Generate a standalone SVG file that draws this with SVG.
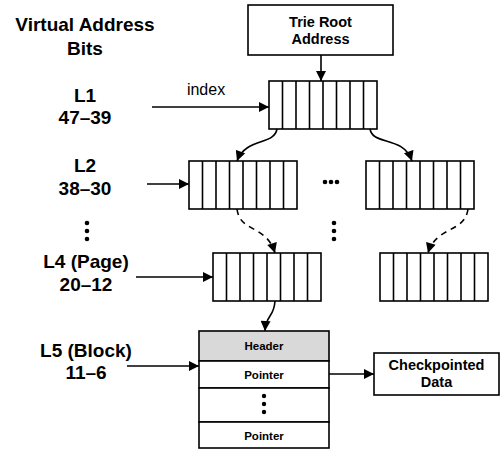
<svg xmlns="http://www.w3.org/2000/svg" width="503" height="450" viewBox="0 0 503 450">
<style>
.lbl{font-family:"Liberation Sans",Arial,sans-serif;font-weight:bold;font-size:19px;fill:#000;text-anchor:middle}
.box{fill:#fff;stroke:#000;stroke-width:1.6}
.cell{stroke:#000;stroke-width:1.6}
.t15{font-family:"Liberation Sans",Arial,sans-serif;font-weight:bold;font-size:14.5px;text-anchor:middle}
.t11{font-family:"Liberation Sans",Arial,sans-serif;font-weight:bold;font-size:11.5px;text-anchor:middle}
.con{fill:none;stroke:#000;stroke-width:1.6}
.dash{stroke-dasharray:6,5}
</style>
<defs>
<marker id="ah" viewBox="0 0 10 10" refX="10" refY="5" markerWidth="11" markerHeight="10" markerUnits="userSpaceOnUse" orient="auto">
<path d="M0,0 L10,5 L0,10 Z" fill="#000"/>
</marker>
<g id="cells8">
<line x1="13.5" y1="0" x2="13.5" y2="48"/><line x1="27" y1="0" x2="27" y2="48"/><line x1="40.5" y1="0" x2="40.5" y2="48"/><line x1="54" y1="0" x2="54" y2="48"/><line x1="67.5" y1="0" x2="67.5" y2="48"/><line x1="81" y1="0" x2="81" y2="48"/><line x1="94.5" y1="0" x2="94.5" y2="48"/>
</g>
</defs>
<g id="labels">
<text class="lbl" x="85" y="31">Virtual Address</text>
<text class="lbl" x="85" y="55">Bits</text>
<text class="lbl" x="85" y="102">L1</text>
<text class="lbl" x="85" y="124">47–39</text>
<text class="lbl" x="85" y="172">L2</text>
<text class="lbl" x="85" y="195">38–30</text>
<circle cx="87" cy="223" r="2.3"/><circle cx="87" cy="231" r="2.3"/><circle cx="87" cy="239" r="2.3"/>
<text class="lbl" x="86" y="268">L4 (Page)</text>
<text class="lbl" x="86" y="291">20–12</text>
<text class="lbl" x="86" y="357">L5 (Block)</text>
<text class="lbl" x="86" y="379">11–6</text>
<text x="206" y="95" font-family="Liberation Sans,Arial,sans-serif" font-size="16" text-anchor="middle">index</text>
</g>
<g id="root">
<rect class="box" x="248" y="5" width="145" height="50"/>
<text class="t15" x="320.5" y="27">Trie Root</text>
<text class="t15" x="320.5" y="44">Address</text>
</g>
<g id="l1" class="cell">
<rect class="box" x="269" y="81" width="108" height="48"/>
<use href="#cells8" x="269" y="81"/>
</g>
<g id="l2a" class="cell">
<rect class="box" x="189" y="161" width="108" height="48"/>
<use href="#cells8" x="189" y="161"/>
</g>
<g id="l2b" class="cell">
<rect class="box" x="366" y="161" width="108" height="48"/>
<use href="#cells8" x="366" y="161"/>
</g>
<g id="l4a" class="cell">
<rect class="box" x="213" y="253" width="108" height="48"/>
<use href="#cells8" x="213" y="253"/>
</g>
<g id="l4b" class="cell">
<rect class="box" x="380" y="253" width="108" height="48"/>
<use href="#cells8" x="380" y="253"/>
</g>
<g id="dots">
<circle cx="325" cy="182" r="2.3"/><circle cx="331" cy="182" r="2.3"/><circle cx="337" cy="182" r="2.3"/>
<circle cx="334" cy="223" r="2.3"/><circle cx="334" cy="231" r="2.3"/><circle cx="334" cy="239" r="2.3"/>
</g>
<g id="block">
<rect x="199" y="331" width="130" height="30" fill="#d9d9d9" stroke="#000" stroke-width="1.6"/>
<rect class="box" x="199" y="361" width="130" height="27"/>
<rect class="box" x="199" y="388" width="130" height="34"/>
<rect class="box" x="199" y="422" width="130" height="26"/>
<text class="t11" x="264" y="350">Header</text>
<text class="t11" x="264" y="379">Pointer</text>
<circle cx="264" cy="396" r="2.2"/><circle cx="264" cy="404" r="2.2"/><circle cx="264" cy="412" r="2.2"/>
<text class="t11" x="264" y="440">Pointer</text>
</g>
<g id="data">
<rect class="box" x="374" y="353" width="125" height="42"/>
<text class="t15" x="436.5" y="370">Checkpointed</text>
<text class="t15" x="436.5" y="387">Data</text>
</g>
<g id="connectors">
<line class="con" x1="321" y1="55" x2="321" y2="81" marker-end="url(#ah)"/>
<line class="con" x1="152" y1="107" x2="269" y2="107" marker-end="url(#ah)"/>
<line class="con" x1="147" y1="184" x2="189" y2="184" marker-end="url(#ah)"/>
<line class="con" x1="136" y1="277" x2="213" y2="277" marker-end="url(#ah)"/>
<line class="con" x1="127" y1="366" x2="199" y2="366" marker-end="url(#ah)"/>
<line class="con" x1="329" y1="374" x2="374" y2="374" marker-end="url(#ah)"/>
<path class="con" d="M277,129 C274,146 246,137 237,161" marker-end="url(#ah)"/>
<path class="con" d="M370,129 C373,146 403,135 412,161" marker-end="url(#ah)"/>
<path class="con dash" d="M237,209 C240,233 266,224 275,253" marker-end="url(#ah)"/>
<path class="con dash" d="M468,209 C465,233 436,226 428,253" marker-end="url(#ah)"/>
<path class="con" d="M275,301 C274,318 266,314 265,331" marker-end="url(#ah)"/>
</g>
</svg>
